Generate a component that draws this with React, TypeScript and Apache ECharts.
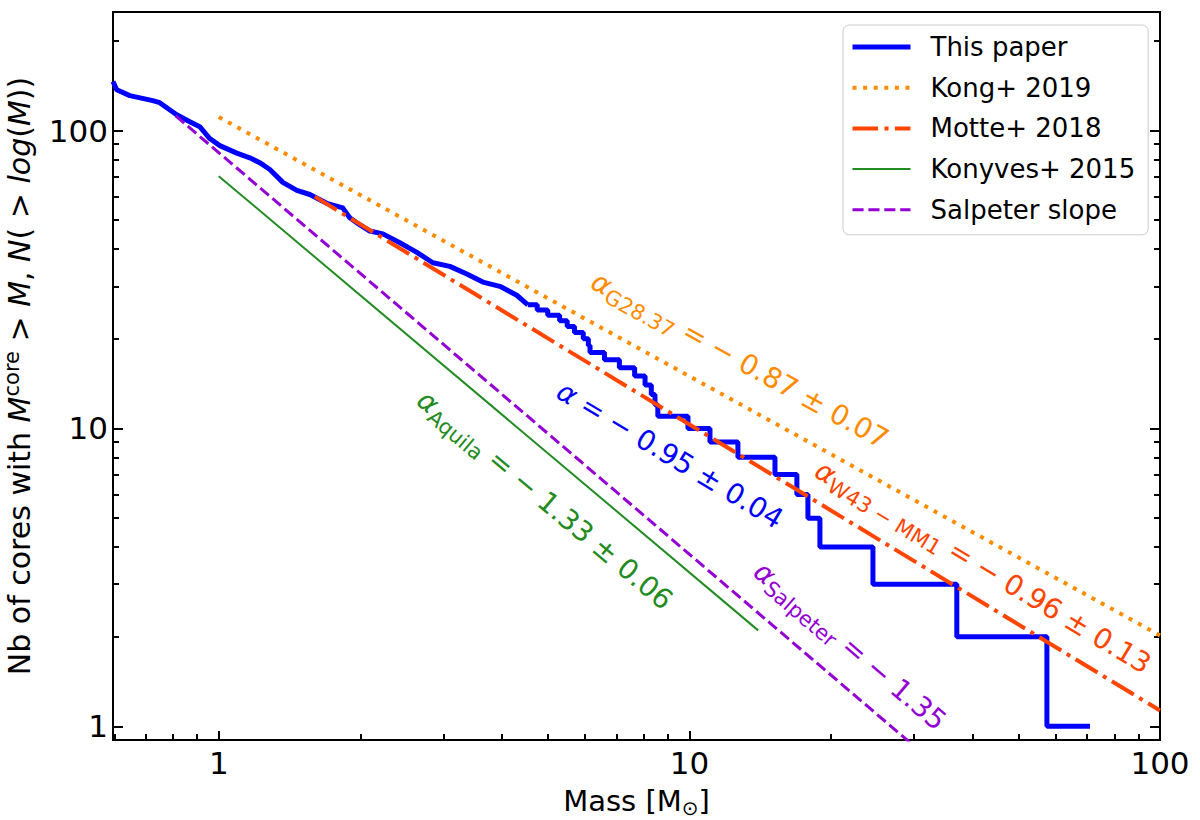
import * as echarts from "echarts";
import { useEffect, useRef } from "react";

const FONT = "DejaVu Sans";
const lg = (v: number) => Math.log10(v);

// axis ranges (data units)
const xRange = [0.596, 100];
const yRange = [0.9, 250];

// tick positions and labels
const majorTicks = [1, 10, 100];
const tickLabels = ["1", "10", "100"];
const minorXTicks = [0.6, 0.7, 0.8, 0.9, 2, 3, 4, 5, 6, 7, 8, 9, 20, 30, 40, 50, 60, 70, 80, 90];
const minorYTicks = [2, 3, 4, 5, 6, 7, 8, 9, 20, 30, 40, 50, 60, 70, 80, 90, 200];

// "This paper": cumulative number of cores, dense part
const denseMass = [0.596, 0.607, 0.647, 0.724, 0.749, 0.814, 0.868, 0.911, 0.957, 1.005, 1.092, 1.164, 1.222, 1.284, 1.368, 1.465, 1.561, 1.696, 1.834, 1.898, 1.965, 2.094, 2.232, 2.425, 2.636, 2.85, 3.097, 3.366, 3.64, 3.956, 4.298, 4.536];
const denseCount = [146, 137, 131, 126, 124, 113, 107, 103, 94, 89, 84, 81, 78, 74, 67, 63, 61, 57, 55, 51, 49, 46, 45, 42, 39, 36, 35, 33, 31, 30, 28, 26];

// "This paper": step part, mass where the count drops to N
const stepMass = [4.536, 4.75, 5.0, 5.3, 5.5, 5.7, 5.95, 6.1, 6.15, 6.6, 7.1, 7.65, 8.05, 8.3, 8.45, 8.57, 9.93, 11.06, 12.68, 15.2, 16.92, 17.86, 18.94, 24.55, 37.0, 57.5, 71.0];
const stepCount = [26, 25, 24, 23, 22, 21, 20, 19, 18, 17, 16, 15, 14, 13, 12, 11, 10, 9, 8, 7, 6, 5, 4, 3, 2, 1, 1];

// power-law fits, end points
const kongMass = [1, 100];
const kongCount = [111, 2.02];
const motteMass = [1.6, 100];
const motteCount = [60, 1.13];
const konyvesMass = [1, 14];
const konyvesCount = [70.3, 2.1];
const salpeterMass = [0.81, 30];
const salpeterCount = [112, 0.86];

const legendNames = ["This paper", "Kong+ 2019", "Motte+ 2018", "Konyves+ 2015", "Salpeter slope"];

const BLUE = "#0000ff";
const ORANGE = "#ff8c00";
const RED = "#ff4500";
const GREEN = "#228b22";
const PURPLE = "#9400d3";

const annotations = [
  { text: "{a|α}{s|G28.37}{b| = − 0.87 ± 0.07}", color: ORANGE, x: 740, y: 360, angle: 29 },
  { text: "{a|α}{b| = − 0.95 ± 0.04}", color: BLUE, x: 670, y: 455, angle: 31 },
  { text: "{a|α}{s|W43 − MM1}{b| = − 0.96 ± 0.13}", color: RED, x: 983, y: 567, angle: 31 },
  { text: "{a|α}{s|Aquila}{b| = − 1.33 ± 0.06}", color: GREEN, x: 545, y: 500, angle: 40 },
  { text: "{a|α}{s|Salpeter}{b| = − 1.35}", color: PURPLE, x: 850, y: 646, angle: 40.5 },
];

const pairs = (xs: number[], ys: number[]) => xs.map((x, i) => [lg(x), lg(ys[i])]);

function fitLine(name: string, xs: number[], ys: number[], color: string, width: number, type: any) {
  return {
    name,
    type: "line",
    data: pairs(xs, ys),
    symbol: "none",
    showSymbol: false,
    silent: true,
    lineStyle: { color, width, type, cap: "butt" },
    itemStyle: { color },
  };
}

export default function App() {
  const ref = useRef<HTMLDivElement | null>(null);

  useEffect(() => {
    if (!ref.current) return;
    const chart = echarts.init(ref.current, null, { renderer: "svg" });

    const tickLine = { color: "#000", width: 2 };
    const xMin = lg(xRange[0]);
    const xMax = lg(xRange[1]);
    const yMin = lg(yRange[0]);
    const yMax = lg(yRange[1]);

    const baseAxis = (min: number, max: number) => ({
      type: "value" as const,
      min,
      max,
      splitLine: { show: false },
      axisLine: { show: false, onZero: false },
    });

    const labelFmt = (v: number) => tickLabels[majorTicks.findIndex((t) => Math.abs(lg(t) - v) < 1e-9)] ?? "";

    chart.setOption({
      animation: false,
      textStyle: { fontFamily: FONT },
      grid: {
        left: 113,
        right: 40,
        top: 12,
        bottom: 80,
        show: true,
        borderColor: "#000",
        borderWidth: 2,
        backgroundColor: "transparent",
        outerBoundsMode: "none",
      },
      legend: {
        data: legendNames,
        orient: "vertical",
        left: 843,
        top: 25,
        padding: [9, 13, 12, 7],
        itemWidth: 58,
        itemHeight: 14,
        itemGap: 14.7,
        selectedMode: false,
        backgroundColor: "rgba(255,255,255,0.8)",
        borderColor: "#cccccc",
        borderWidth: 1,
        borderRadius: 6,
        itemStyle: { opacity: 0 },
        lineStyle: { width: "inherit" },
        textStyle: { fontSize: 26, color: "#000", fontFamily: FONT, padding: [0, 0, 0, 15] },
      },
      xAxis: [
        {
          ...baseAxis(xMin, xMax),
          position: "bottom",
          name: "{n|Mass [M}{sub|⊙}{n|]}",
          nameLocation: "middle",
          nameGap: 44,
          nameTextStyle: {
            fontSize: 29,
            color: "#000",
            fontFamily: FONT,
            rich: {
              n: { fontSize: 29, fontFamily: FONT, color: "#000" },
              sub: { fontSize: 20, fontFamily: FONT, color: "#000", padding: [14, 0, 0, 0] },
            },
          },
          axisTick: { show: true, inside: true, length: 9, lineStyle: tickLine, customValues: majorTicks.map(lg) },
          axisLabel: {
            show: true,
            margin: 7,
            fontSize: 31,
            color: "#000",
            fontFamily: FONT,
            customValues: majorTicks.map(lg),
            formatter: labelFmt,
          },
        },
        {
          ...baseAxis(xMin, xMax),
          position: "bottom",
          axisTick: { show: true, inside: true, length: 6, lineStyle: tickLine, customValues: minorXTicks.map(lg) },
          axisLabel: { show: false },
        },
      ],
      yAxis: [
        {
          ...baseAxis(yMin, yMax),
          position: "left",
          name: "{n|Nb of cores with }{i|M}{sup|core}{n| > }{i|M}{n|, }{i|N}{n|( > }{i|log}{n|(}{i|M}{n|))}",
          nameLocation: "middle",
          nameRotate: 90,
          nameGap: 76,
          nameTextStyle: {
            fontSize: 30,
            color: "#000",
            fontFamily: FONT,
            rich: {
              n: { fontSize: 30, fontFamily: FONT, color: "#000" },
              i: { fontSize: 30, fontFamily: FONT, color: "#000", fontStyle: "italic" },
              sup: { fontSize: 21, fontFamily: FONT, color: "#000", padding: [0, 0, 15, 0] },
            },
          },
          axisTick: { show: true, inside: true, length: 10, lineStyle: tickLine, customValues: majorTicks.map(lg) },
          axisLabel: {
            show: true,
            margin: 5,
            fontSize: 31,
            color: "#000",
            fontFamily: FONT,
            customValues: majorTicks.map(lg),
            formatter: labelFmt,
          },
        },
        {
          ...baseAxis(yMin, yMax),
          position: "left",
          axisTick: { show: true, inside: true, length: 6, lineStyle: tickLine, customValues: minorYTicks.map(lg) },
          axisLabel: { show: false },
        },
        {
          ...baseAxis(yMin, yMax),
          position: "right",
          axisTick: { show: true, inside: true, length: 10, lineStyle: tickLine, customValues: majorTicks.map(lg) },
          axisLabel: { show: false },
        },
        {
          ...baseAxis(yMin, yMax),
          position: "right",
          axisTick: { show: true, inside: true, length: 6, lineStyle: tickLine, customValues: minorYTicks.map(lg) },
          axisLabel: { show: false },
        },
      ],
      series: [
        {
          name: "This paper",
          type: "line",
          data: pairs(denseMass, denseCount),
          symbol: "none",
          showSymbol: false,
          silent: true,
          lineStyle: { color: BLUE, width: 5, join: "round" },
          itemStyle: { color: BLUE },
        },
        {
          name: "This paper",
          type: "line",
          step: "end",
          data: pairs(stepMass, stepCount),
          symbol: "none",
          showSymbol: false,
          silent: true,
          lineStyle: { color: BLUE, width: 5 },
          itemStyle: { color: BLUE },
        },
        fitLine("Kong+ 2019", kongMass, kongCount, ORANGE, 4, [4, 6.6]),
        fitLine("Motte+ 2018", motteMass, motteCount, RED, 4, [25.6, 6.4, 4, 6.4]),
        fitLine("Konyves+ 2015", konyvesMass, konyvesCount, GREEN, 2, "solid"),
        fitLine("Salpeter slope", salpeterMass, salpeterCount, PURPLE, 3, [11.1, 4.8]),
      ],
      graphic: annotations.map((a) => ({
        type: "text",
        x: a.x,
        y: a.y,
        z: 100,
        rotation: (-a.angle * Math.PI) / 180,
        silent: true,
        style: {
          text: a.text,
          fill: a.color,
          fontSize: 28,
          fontFamily: FONT,
          align: "center",
          verticalAlign: "middle",
          rich: {
            a: { fontSize: 28, fontFamily: FONT, fontStyle: "italic", fill: a.color },
            b: { fontSize: 28, fontFamily: FONT, fill: a.color },
            s: { fontSize: 21, fontFamily: FONT, fill: a.color, padding: [16, 0, 0, 0] },
          },
        },
      })),
    });

    return () => {
      chart.dispose();
    };
  }, []);

  return (
    <div
      ref={ref}
      style={{ position: "absolute", left: 0, top: 0, width: 1200, height: 820, background: "#fff" }}
    />
  );
}
